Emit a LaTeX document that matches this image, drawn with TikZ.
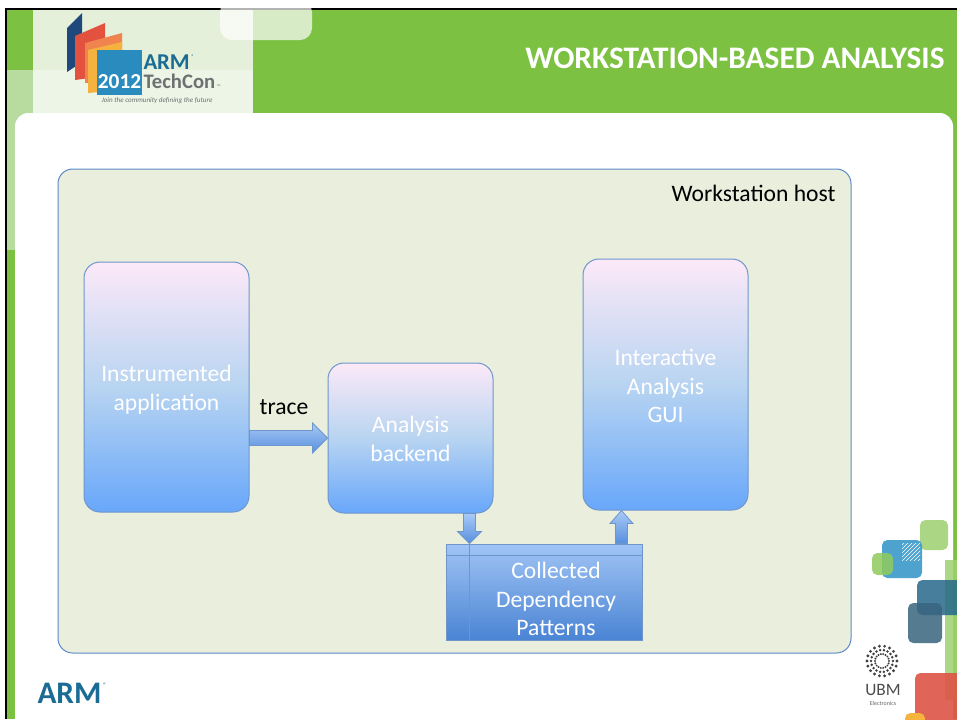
\documentclass[tikz,border=0pt]{standalone}
\usepackage{fontspec}
\setmainfont{Carlito}
\usetikzlibrary{calc,patterns}

\definecolor{hdrgreen}{RGB}{124,193,66}
\definecolor{logobg}{RGB}{228,240,217}
\definecolor{sidegreen}{RGB}{184,219,160}
\definecolor{hostfill}{RGB}{234,238,221}
\definecolor{hostedge}{RGB}{92,138,200}
\definecolor{boxtop}{RGB}{252,233,248}
\definecolor{boxmid}{RGB}{184,212,241}
\definecolor{boxbot}{RGB}{104,167,250}
\definecolor{boxedge}{RGB}{110,150,203}
\definecolor{storetop}{RGB}{160,196,245}
\definecolor{storebot}{RGB}{74,132,212}
\definecolor{arrtop}{RGB}{168,202,246}
\definecolor{arrbot}{RGB}{88,143,222}
\definecolor{armteal}{RGB}{27,108,148}
\definecolor{techgrey}{RGB}{110,112,114}
\definecolor{panelnavy}{RGB}{31,73,125}
\definecolor{panelred}{RGB}{226,82,62}
\definecolor{panelorange}{RGB}{240,132,78}
\definecolor{panelyellow}{RGB}{246,178,62}
\definecolor{panelblue}{RGB}{42,140,190}
\definecolor{tileblue}{RGB}{58,154,200}
\definecolor{tilegreen}{RGB}{150,204,100}
\definecolor{tileteal}{RGB}{38,104,138}
\definecolor{tileslate}{RGB}{56,100,126}
\definecolor{tilered}{RGB}{222,84,70}
\definecolor{tileorange}{RGB}{246,180,60}

\tikzset{every picture/.style={line width=0.75pt}}

\tikzset{
  hostbox/.style={draw=hostedge, fill=hostfill, rounded corners=11pt, inner sep=0pt},
  procbox/.style={draw=boxedge, rounded corners=12pt, top color=boxtop, bottom color=boxbot, middle color=boxmid,
    minimum width=123.75pt, inner sep=0pt},
  storebox/.style={draw=boxedge, top color=storetop, bottom color=storebot, inner sep=0pt},
  fatarrow/.style={draw=boxedge, line width=0.6pt, top color=arrtop, bottom color=arrbot},
  bodytext/.style={font=\fontsize{17.7}{21.6}\selectfont, align=center, inner sep=0pt},
  tile/.style={rounded corners=4pt},
}

\begin{document}
\begin{tikzpicture}[x=0.75pt,y=0.75pt,yscale=-1,xscale=1]
\useasboundingbox (0,0) rectangle (957,719);
\clip (0,0) rectangle (957,719);

%Slide frame and header
\fill[black] (5,8) rectangle (957,719);
\fill[hdrgreen] (7,10) rectangle (957,719);
\fill[logobg] (33,10) rectangle (253,113);
\fill[white, opacity=0.35] (33,70) rectangle (253,113);
\fill[sidegreen] (7,70) rectangle (33,250);
\fill[white, opacity=0.7, rounded corners=9pt] (220,0) rectangle (312,40);

%Logo panels
\fill[panelnavy] (67,28) -- (82,13) -- (82,62) -- (67,72) -- cycle;
\fill[panelred] (75,36) -- (105,23) -- (105,76) -- (75,80) -- cycle;
\fill[panelorange] (85,43) -- (122,33) -- (122,80) -- (85,83) -- cycle;
\fill[panelyellow] (88,50) -- (122,42) -- (122,90) -- (88,93) -- cycle;
\fill[panelblue] (97,50) rectangle (142,95);
% Text Node
\draw (119.5,88) node [anchor=base, text=white, font=\fontsize{16}{18}\bfseries] (logoyear) {2012};
% Text Node
\draw (143,69) node [anchor=base west, text=armteal, font=\fontsize{17}{19}\bfseries, inner sep=0pt, text depth=0pt] (logoarm) {ARM};
\draw (logoarm.north east) node [anchor=north west, text=armteal, font=\fontsize{4}{4}\selectfont, inner sep=0.5pt] (logoreg) {\textregistered};
% Text Node
\draw (143,88) node [anchor=base west, text=techgrey, font=\fontsize{15.5}{18}\bfseries, inner sep=0pt, text height=10pt] (logotech) {TechCon};
\draw (logotech.base east) node [anchor=base west, text=techgrey, font=\fontsize{4}{4}\selectfont, inner sep=0.5pt] (logotm) {\texttrademark};
% Text Node
\draw (157,101) node [text=techgrey, font=\fontsize{5.3}{6}\itshape, inner sep=0pt] (logotag) {Join the community defining the future};

% Text Node
\draw (945,68) node [anchor=base east, text=white, font=\fontsize{23.5}{28}\bfseries, inner sep=0pt] (title) {WORKSTATION-BASED ANALYSIS};

%Content panel
\fill[white, rounded corners=10pt] (15,113) rectangle (953,740);

%Corner tiles
\fill[hdrgreen!75, opacity=0.85] (945,560) rectangle (960,700);
\fill[tilegreen, opacity=0.8, tile] (920,520) rectangle (948,550);
\fill[tileblue, opacity=0.9, tile] (882,540) rectangle (922,578);
\fill[pattern=north east lines, pattern color=white] (902,543) rectangle (920,560);
\fill[hdrgreen!85, opacity=0.85, tile] (872,553) rectangle (893,575);
\fill[tileteal, opacity=0.85, tile] (917,580) rectangle (962,615);
\fill[tileslate, opacity=0.85, tile] (908,603) rectangle (942,643);
\fill[tilered, opacity=0.9, tile] (915,673) rectangle (962,725);
\fill[tileorange, tile] (905,713) rectangle (925,725);

%UBM mark
\foreach \a in {100,120,...,260}
  \foreach \r/\s in {15/1.6,11/1.4,7/1.1}
    \fill[black!75] ($(882,661)+(\a:\r)$) circle (\s);
\foreach \a in {-80,-60,...,80}
  \foreach \r/\s in {15/1.6,11/1.4,7/1.1}
    \fill[black!75] ($(882,661)+(\a:\r)$) circle (\s);
% Text Node
\draw (883,695) node [anchor=base, text=black!70, font=\fontsize{13}{15}\selectfont, inner sep=0pt] (ubm) {UBM};
% Text Node
\draw (883,705) node [anchor=base, text=black!60, font=\fontsize{4.5}{5}\selectfont, inner sep=0pt] (ubmsub) {Electronics};

% Text Node
\draw (37,703) node [anchor=base west, text=armteal, font=\fontsize{23.5}{25}\bfseries, inner sep=0pt] (footarm) {ARM};
\draw (footarm.north east) node [anchor=north west, text=armteal, font=\fontsize{5}{5}\selectfont, inner sep=0.5pt] (footreg) {\textregistered};

%Workstation host
\node[hostbox, minimum width=594.75pt, minimum height=363pt] (host) at (454.5,411) {};
% Text Node
\draw (836,193) node [anchor=east, bodytext] (hostlbl) {Workstation host};

%Processing blocks
\node[procbox, minimum height=187.5pt] (app) at (166.5,387) {};
\node[procbox, minimum height=112.5pt] (backend) at (410.5,438) {};
\node[procbox, minimum height=188.25pt] (gui) at (665.5,384.5) {};
% Text Node
\draw ($(app.center)+(0,2.5)$) node [bodytext, text=white] (applbl) {Instrumented\\application};
% Text Node
\draw ($(backend.center)+(0,1)$) node [bodytext, text=white] (backendlbl) {Analysis\\backend};
% Text Node
\draw ($(gui.center)+(0,1.5)$) node [bodytext, text=white] (guilbl) {Interactive\\Analysis\\GUI};

%Pattern store
\node[storebox, minimum width=147pt, minimum height=72pt] (store) at (544,592) {};
\draw[boxedge, line width=0.6pt] ($(store.north west)+(0,12)$) -- ($(store.north east)+(0,12)$);
\draw[boxedge, line width=0.6pt] ([xshift=18pt]store.north west) -- ([xshift=18pt]store.south west);
% Text Node
\draw (556,599) node [bodytext, text=white] (storelbl) {Collected\\Dependency\\Patterns};

%Block arrows
\coordinate (t0) at (app.east |- backend.west);
\coordinate (t1) at (backend.west);
\draw[fatarrow] ($(t0)+(0,-7.5)$) -- ($(t1)+(-15,-7.5)$) -- ($(t1)+(-15,-15)$) -- (t1)
  -- ($(t1)+(-15,15)$) -- ($(t1)+(-15,7.5)$) -- ($(t0)+(0,7.5)$) -- cycle;
% Text Node
\draw (284,407) node [bodytext] (tracelbl) {trace};

\coordinate (d1) at ([xshift=18pt]store.north west);
\coordinate (d0) at (d1 |- backend.south);
\draw[fatarrow] ($(d0)+(-6,0)$) -- ($(d1)+(-6,-12)$) -- ($(d1)+(-12,-12)$) -- (d1)
  -- ($(d1)+(12,-12)$) -- ($(d1)+(6,-12)$) -- ($(d0)+(6,0)$) -- cycle;

\coordinate (u0) at ([xshift=-15.75pt]store.north east);
\coordinate (u1) at (u0 |- gui.south);
\draw[fatarrow] ($(u0)+(-6,0)$) -- ($(u1)+(-6,13)$) -- ($(u1)+(-11.5,13)$) -- (u1)
  -- ($(u1)+(11.5,13)$) -- ($(u1)+(6,13)$) -- ($(u0)+(6,0)$) -- cycle;

\end{tikzpicture}
\end{document}
